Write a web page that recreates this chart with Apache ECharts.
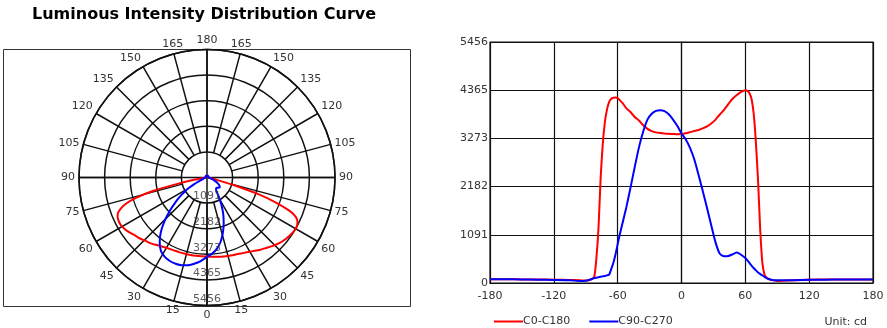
<!DOCTYPE html>
<html>
<head>
<meta charset="utf-8">
<script src="https://cdn.jsdelivr.net/npm/echarts@6.0.0/dist/echarts.min.js"></script>
<style>
  html, body { margin: 0; padding: 0; background: #fff; }
  #chart { width: 887px; height: 328px; }
</style>
</head>
<body>
<div id="chart"></div>
<script>
// Gamma angles (degrees) at which both C-planes were sampled
const gamma = [
  -180, -165, -150, -135, -120, -105, -95, -90, -85, -82, -80, -78, -76, -74, -72, -70,
  -68, -66, -64, -62, -60, -58, -55, -52, -48, -44, -40, -36, -32, -28, -24, -20,
  -16, -12, -8, -4, 0, 4, 8, 12, 16, 20, 24, 28, 32, 36, 40, 44,
  48, 52, 56, 60, 62, 64, 66, 68, 70, 72, 74, 76, 78, 80, 82, 85,
  90, 95, 105, 120, 135, 150, 165, 180
];

// Luminous intensity (cd), C0-C180 plane
const c0c180 = [
  85, 84, 82, 80, 76, 70, 60, 58, 80, 140, 560, 1250, 2380, 3150, 3650, 3930,
  4100, 4170, 4195, 4200, 4185, 4140, 4060, 3960, 3870, 3760, 3680, 3570, 3490, 3440, 3410, 3395,
  3385, 3378, 3372, 3370, 3372, 3390, 3415, 3440, 3465, 3500, 3545, 3610, 3700, 3815, 3920, 4050,
  4170, 4255, 4325, 4365, 4350, 4290, 4150, 3800, 3150, 2300, 1200, 460, 190, 120, 90, 65,
  48, 52, 65, 75, 78, 80, 80, 82
];

// Luminous intensity (cd), C90-C270 plane
const c90c270 = [
  85, 84, 80, 75, 68, 60, 45, 50, 85, 110, 120, 130, 140, 150, 160, 172,
  190, 320, 460, 650, 880, 1100, 1400, 1700, 2150, 2620, 3070, 3430, 3700, 3830, 3895, 3913,
  3890, 3820, 3700, 3560, 3386, 3250, 3060, 2800, 2450, 2080, 1700, 1300, 920, 660, 605, 610,
  650, 690, 640, 564, 510, 450, 390, 335, 285, 240, 205, 170, 140, 110, 90, 70,
  60, 60, 65, 72, 75, 78, 80, 82
];

// Intensity scale ticks (cd)
const intensityTicks = [0, 1091, 2182, 3273, 4365, 5456];

const planeNames = ['C0-C180', 'C90-C270'];
const planeColors = ['#ff0000', '#0000ff'];
const titleText = 'Luminous Intensity Distribution Curve';
const unitText = 'Unit: cd';

const FONT = 'DejaVu Sans';
const INK = '#111';
const LABEL = '#333';
const maxI = intensityTicks[intensityTicks.length - 1];
const stepI = maxI / (intensityTicks.length - 1);

const nearestTick = v => {
  let best = intensityTicks[0];
  intensityTicks.forEach(t => { if (Math.abs(t - v) < Math.abs(best - v)) best = t; });
  return String(best);
};

const cartesian = vals => gamma.map((g, i) => [g, vals[i]]);
const polarPts = vals => gamma.map((g, i) => [vals[i], g]);
const polarLine = { color: INK, width: 1.5 };
const gridLine = { color: INK, width: 1.2 };

const chart = echarts.init(document.getElementById('chart'), null, { renderer: 'canvas' });

chart.setOption({
  animation: false,
  backgroundColor: '#fff',
  textStyle: { fontFamily: FONT },
  title: [
    {
      text: titleText, left: 27, top: 2,
      textStyle: { fontFamily: FONT, fontSize: 16, fontWeight: 'bold', color: '#000' }
    },
    {
      text: unitText, right: 15, top: 312,
      textStyle: { fontFamily: FONT, fontSize: 11, fontWeight: 'normal', color: LABEL }
    }
  ],
  legend: {
    data: planeNames,
    left: 489, top: 311,
    icon: 'rect',
    itemWidth: 29, itemHeight: 2, itemGap: 19,
    textStyle: { fontFamily: FONT, fontSize: 11, color: LABEL, padding: [0, 0, 0, -5] }
  },
  graphic: [
    {
      type: 'rect', silent: true, z: 0,
      shape: { x: 3.5, y: 49.5, width: 407, height: 257 },
      style: { fill: 'none', stroke: '#333', lineWidth: 1 }
    }
  ],
  // polar 0: spokes every 15 deg (outside the first ring) and angle labels
  // polar 1: rings, cross lines and the curves
  polar: [
    { center: [207, 177.5], radius: [25.6, 128] },
    { center: [207, 177.5], radius: 128 }
  ],
  angleAxis: [
    {
      polarIndex: 0, type: 'value', min: -180, max: 180, interval: 15,
      startAngle: 90, clockwise: false,
      axisLine: { show: false }, axisTick: { show: false },
      splitLine: { show: true, lineStyle: polarLine },
      axisLabel: {
        show: true, margin: 4, color: LABEL, fontSize: 11, fontFamily: FONT,
        formatter: v => String(Math.abs(v))
      }
    },
    {
      polarIndex: 1, type: 'value', min: -180, max: 180, interval: 90,
      startAngle: 90, clockwise: false,
      axisLine: { show: true, lineStyle: polarLine },
      axisTick: { show: false }, axisLabel: { show: false },
      splitLine: { show: true, lineStyle: polarLine }
    }
  ],
  radiusAxis: [
    {
      polarIndex: 0, type: 'value', min: 0, max: maxI,
      axisLine: { show: false }, axisTick: { show: false },
      axisLabel: { show: false }, splitLine: { show: false }
    },
    {
      polarIndex: 1, type: 'value', min: 0, max: maxI, interval: stepI,
      axisLine: { show: false }, axisTick: { show: false },
      axisLabel: { show: false },
      splitLine: { show: true, lineStyle: polarLine }
    }
  ],
  grid: {
    left: 490, right: 14, top: 42, bottom: 45,
    show: true, borderColor: INK, borderWidth: 1.2
  },
  xAxis: {
    type: 'value', min: -180, max: 180, interval: 60,
    axisLine: { show: true, lineStyle: gridLine },
    axisTick: { show: false },
    axisLabel: { margin: 8, color: LABEL, fontSize: 11, fontFamily: FONT },
    splitLine: { show: true, lineStyle: gridLine }
  },
  yAxis: {
    type: 'value', min: 0, max: maxI, interval: stepI,
    axisLine: { show: true, lineStyle: gridLine },
    axisTick: { show: false },
    axisLabel: { margin: 2, color: LABEL, fontSize: 11, fontFamily: FONT, formatter: nearestTick },
    splitLine: { show: true, lineStyle: gridLine }
  },
  series: [
    {
      name: planeNames[0], type: 'line', data: cartesian(c0c180),
      symbol: 'none', smooth: 0.2, color: planeColors[0],
      lineStyle: { width: 2, color: planeColors[0] }, z: 3
    },
    {
      name: planeNames[1], type: 'line', data: cartesian(c90c270),
      symbol: 'none', smooth: 0.2, color: planeColors[1],
      lineStyle: { width: 2, color: planeColors[1] }, z: 4
    },
    {
      name: planeNames[0], type: 'line', coordinateSystem: 'polar', polarIndex: 1,
      data: polarPts(c0c180), symbol: 'none', smooth: 0.2, color: planeColors[0],
      lineStyle: { width: 2, color: planeColors[0] }, z: 3
    },
    {
      name: planeNames[1], type: 'line', coordinateSystem: 'polar', polarIndex: 1,
      data: polarPts(c90c270), symbol: 'none', smooth: 0.2, color: planeColors[1],
      lineStyle: { width: 2, color: planeColors[1] }, z: 4
    },
    {
      name: 'ringLabels', type: 'scatter', coordinateSystem: 'polar', polarIndex: 1,
      data: intensityTicks.slice(1).map(v => [v, 0]),
      symbolSize: 0, silent: true, z: 5,
      label: {
        show: true, position: 'top', distance: 1,
        color: LABEL, fontSize: 11, fontFamily: FONT,
        formatter: p => String(p.value[0])
      }
    }
  ]
});
</script>
</body>
</html>
